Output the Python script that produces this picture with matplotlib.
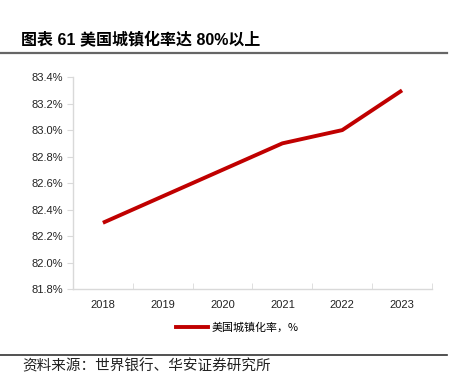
import matplotlib
matplotlib.use("Agg")
import matplotlib.pyplot as plt
from matplotlib.lines import Line2D

plt.rcParams['font.family'] = ['Liberation Sans', 'Noto Sans CJK SC', 'DejaVu Sans']

# -------------------------------------------------------------
# Data
# -------------------------------------------------------------
years = ['2018', '2019', '2020', '2021', '2022', '2023']
urban_rate = [82.3, 82.5, 82.7, 82.9, 83.0, 83.3]
y_ticks = [81.8, 82.0, 82.2, 82.4, 82.6, 82.8, 83.0, 83.2, 83.4]

title = '图表 61 美国城镇化率达 80%以上'
series_name = '美国城镇化率，%'
source = '资料来源：世界银行、华安证券研究所'

# -------------------------------------------------------------
# Plot
# -------------------------------------------------------------
fig = plt.figure(figsize=(4.55, 3.8), dpi=100)
ax = fig.add_axes([0.1604, 0.2395, 0.789, 0.5575])

x = range(len(years))
ax.plot(x, urban_rate, color='#C00000', linewidth=2.8, solid_capstyle='butt')

ax.set_xlim(-0.5, len(years) - 0.5)
ax.set_ylim(81.8, 83.4)
ax.set_yticks(y_ticks)
ax.set_yticklabels([f'{v:.1f}%' for v in y_ticks], fontsize=8, color='#222222')

ax.set_xticks(list(x))
ax.set_xticklabels(years, fontsize=8, color='#222222')
ax.tick_params(axis='x', length=0, pad=8)
ax.set_xticks([i - 0.5 for i in range(len(years) + 1)], minor=True)
ax.tick_params(axis='x', which='minor', length=4, color='#D9D9D9', direction='in')
ax.tick_params(axis='y', length=4, color='#D9D9D9', pad=3)

for side in ['top', 'right']:
    ax.spines[side].set_visible(False)
for side in ['left', 'bottom']:
    ax.spines[side].set_color('#D9D9D9')
    ax.spines[side].set_linewidth(1.0)

# legend
handle = Line2D([0], [0], color='#C00000', linewidth=2.8)
fig.legend([handle], [series_name], loc='center', bbox_to_anchor=(0.522, 0.137),
           frameon=False, handlelength=2.9, handletextpad=0.3,
           prop={'family': ['Noto Sans CJK SC'], 'size': 7.9})

# title and rules
fig.text(0.046, 0.895, title, fontsize=11.5, fontweight='bold', va='center',
         family=['Liberation Sans', 'Noto Sans CJK SC'])
fig.add_artist(Line2D([0.0, 0.982], [0.861, 0.861], color='#666666', linewidth=1.6))
fig.add_artist(Line2D([0.0, 0.982], [0.066, 0.066], color='#333333', linewidth=1.2))
fig.text(0.048, 0.036, source, fontsize=10.5, va='center', color='#222222',
         family=['Noto Sans CJK SC'])

fig.savefig('out.png', dpi=100)
